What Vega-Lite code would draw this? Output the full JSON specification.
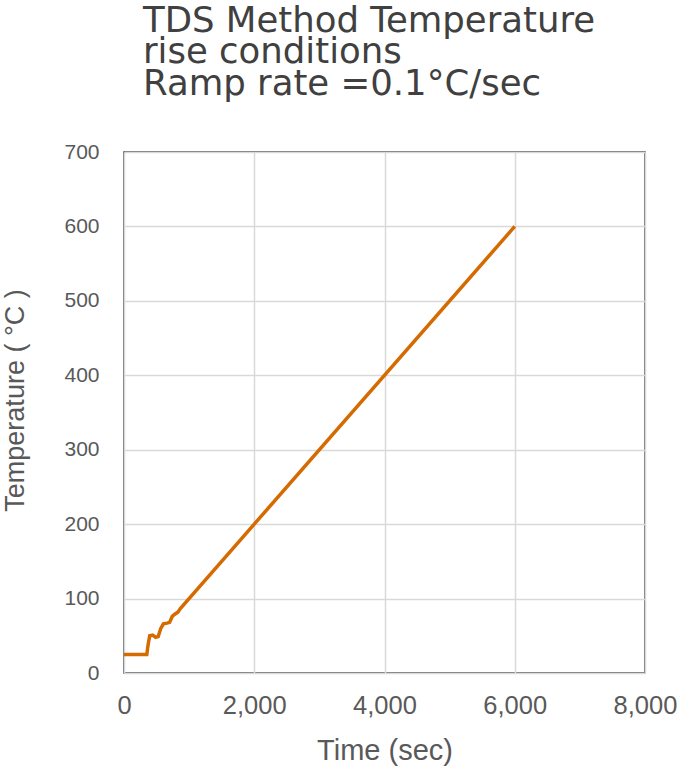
{
  "$schema": "https://vega.github.io/schema/vega-lite/v6.json",
  "width": 521,
  "height": 521,
  "autosize": {"type": "none"},
  "padding": {"left": 124, "top": 152, "right": 32, "bottom": 94},
  "background": "white",
  "title": {
    "text": ["TDS Method Temperature", "rise conditions", "Ramp rate =0.1°C/sec"],
    "anchor": "start",
    "orient": "top",
    "frame": "group",
    "dx": 19,
    "offset": 39,
    "font": "DejaVu Sans",
    "fontSize": 35.5,
    "fontWeight": "normal",
    "color": "#404040",
    "lineHeight": 31.5
  },
  "config": {
    "view": {"stroke": "#404040", "strokeWidth": 1.5},
    "axis": {
      "grid": true,
      "gridColor": "#d9d9d9",
      "gridWidth": 1.5,
      "domain": false,
      "ticks": false,
      "labelFont": "Liberation Sans",
      "titleFont": "Liberation Sans",
      "labelColor": "#595959",
      "titleColor": "#595959",
      "titleFontWeight": "normal"
    }
  },
  "data": {
    "values": [
      {"t": 0, "T": 25},
      {"t": 350, "T": 25},
      {"t": 370, "T": 38},
      {"t": 395, "T": 50},
      {"t": 440, "T": 51},
      {"t": 485, "T": 48},
      {"t": 525, "T": 49},
      {"t": 565, "T": 60},
      {"t": 605, "T": 66},
      {"t": 660, "T": 67},
      {"t": 700, "T": 68},
      {"t": 740, "T": 76},
      {"t": 780, "T": 79},
      {"t": 830, "T": 82},
      {"t": 865, "T": 86.5},
      {"t": 6000, "T": 600}
    ]
  },
  "mark": {"type": "line", "color": "#d46a00", "strokeWidth": 3.5, "interpolate": "linear"},
  "encoding": {
    "x": {
      "field": "t",
      "type": "quantitative",
      "scale": {"domain": [0, 8000], "nice": false},
      "axis": {
        "values": [0, 2000, 4000, 6000, 8000],
        "format": ",.0f",
        "title": "Time (sec)",
        "labelFlush": false,
        "labelOverlap": false,
        "labelFontSize": 25.5,
        "labelPadding": 20,
        "titleFontSize": 29,
        "titlePadding": 18
      }
    },
    "y": {
      "field": "T",
      "type": "quantitative",
      "scale": {"domain": [0, 700], "nice": false},
      "axis": {
        "values": [0, 100, 200, 300, 400, 500, 600, 700],
        "title": "Temperature ( °C )",
        "labelFontSize": 21,
        "labelPadding": 25,
        "titleFontSize": 27,
        "titlePadding": 34,
        "titleY": 248
      }
    }
  }
}
